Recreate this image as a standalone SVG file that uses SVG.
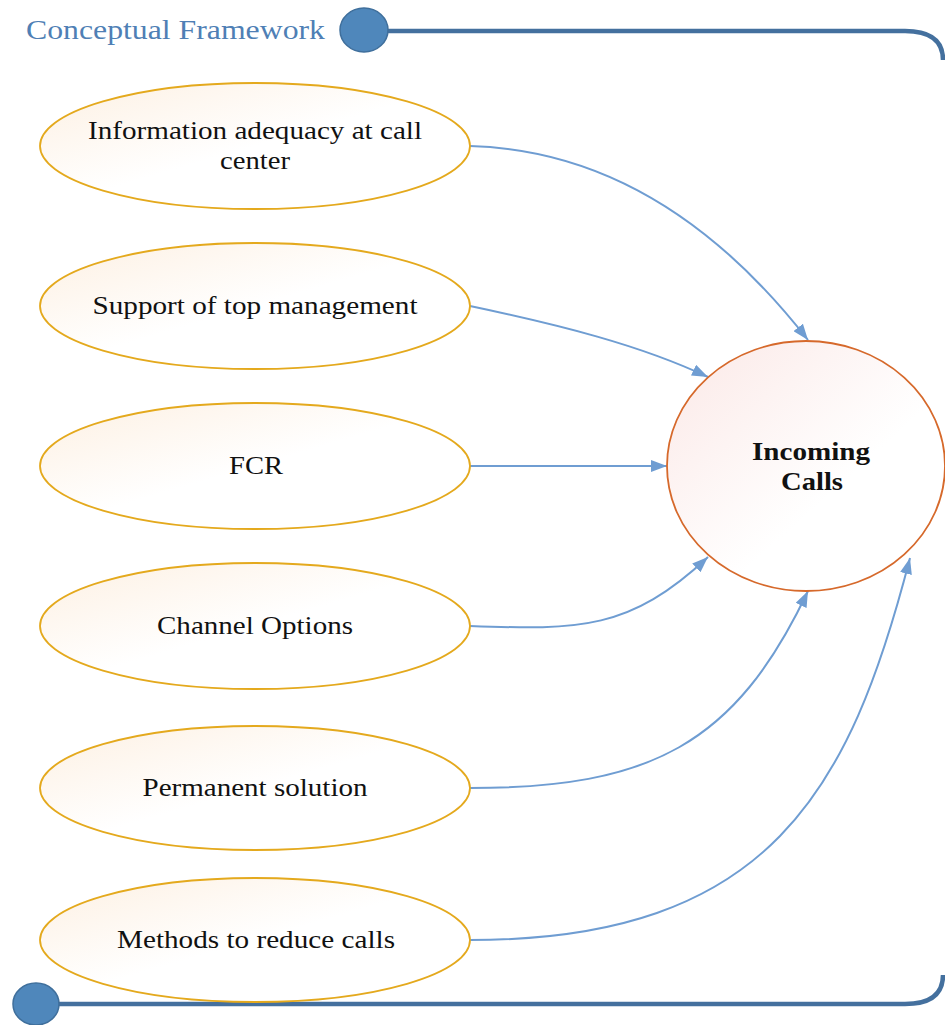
<svg xmlns="http://www.w3.org/2000/svg" width="945" height="1025" viewBox="0 0 945 1025">
<defs>
<linearGradient id="gOrange" x1="0" y1="0" x2="1" y2="1">
<stop offset="0" stop-color="#fdf0e2"/>
<stop offset="0.5" stop-color="#ffffff"/>
</linearGradient>
<linearGradient id="gPink" x1="0" y1="0" x2="1" y2="1">
<stop offset="0" stop-color="#fbe8e6"/>
<stop offset="0.6" stop-color="#ffffff"/>
</linearGradient>
<marker id="arrB" viewBox="0 0 16 12" refX="16" refY="6" markerWidth="16" markerHeight="12" markerUnits="userSpaceOnUse" orient="auto">
<path d="M0,0 L16,6 L0,12 z" fill="#6f9dd2"/>
</marker>
</defs>
<style>
.inp{fill:url(#gOrange);stroke:#e4a91d;stroke-width:1.8}
.lbl{font-family:"Liberation Serif","Times New Roman",serif;font-size:25px;fill:#111;text-anchor:middle}
.con{fill:none;stroke:#6f9dd2;stroke-width:2;marker-end:url(#arrB)}
.frame{fill:none;stroke:#44709e;stroke-width:4.5}
.dot{fill:#4f87bb;stroke:#3f6f9c;stroke-width:1.5}
</style>
<g id="frame">
<path class="frame" d="M385,31 L905,31 Q943,31 943,60"/>
<path class="frame" d="M58,1004 L905,1004 Q943,1004 943,975"/>
<ellipse class="dot" cx="364" cy="30" rx="24" ry="22"/>
<ellipse class="dot" cx="36" cy="1004" rx="23" ry="21"/>
<text x="26" y="39" font-family="Liberation Serif,serif" font-size="27" fill="#4f7fb5" textLength="299" lengthAdjust="spacingAndGlyphs">Conceptual Framework</text>
</g>
<g id="connectors">
<path class="con" d="M470,146 C620,150 730,240 808,340"/>
<path class="con" d="M470,306 C560,325 640,345 708,377"/>
<path class="con" d="M470,466 L667,466"/>
<path class="con" d="M470,626 C580,630 630,630 708,557"/>
<path class="con" d="M470,788 C650,788 735,745 808,591"/>
<path class="con" d="M470,940 C770,940 850,790 910,558"/>
</g>
<g id="n1"><ellipse class="inp" cx="255" cy="146" rx="215" ry="63"/><text class="lbl" x="255" y="139" textLength="334" lengthAdjust="spacingAndGlyphs">Information adequacy at call</text><text class="lbl" x="255" y="169" textLength="70" lengthAdjust="spacingAndGlyphs">center</text></g>
<g id="n2"><ellipse class="inp" cx="255" cy="306" rx="215" ry="63"/><text class="lbl" x="255" y="314" textLength="325" lengthAdjust="spacingAndGlyphs">Support of top management</text></g>
<g id="n3"><ellipse class="inp" cx="255" cy="466" rx="215" ry="63"/><text class="lbl" x="256" y="474" textLength="54" lengthAdjust="spacingAndGlyphs">FCR</text></g>
<g id="n4"><ellipse class="inp" cx="255" cy="626" rx="215" ry="63"/><text class="lbl" x="255" y="634" textLength="196" lengthAdjust="spacingAndGlyphs">Channel Options</text></g>
<g id="n5"><ellipse class="inp" cx="255" cy="788" rx="215" ry="62"/><text class="lbl" x="255" y="796" textLength="225" lengthAdjust="spacingAndGlyphs">Permanent solution</text></g>
<g id="n6"><ellipse class="inp" cx="255" cy="940" rx="215" ry="62"/><text class="lbl" x="256" y="948" textLength="278" lengthAdjust="spacingAndGlyphs">Methods to reduce calls</text></g>
<g id="target"><ellipse cx="806" cy="466" rx="139" ry="125" fill="url(#gPink)" stroke="#d6692b" stroke-width="1.8"/>
<text class="lbl" x="811" y="460" font-weight="bold" textLength="118" lengthAdjust="spacingAndGlyphs">Incoming</text><text class="lbl" x="812" y="490" font-weight="bold" textLength="62" lengthAdjust="spacingAndGlyphs">Calls</text></g>
</svg>
